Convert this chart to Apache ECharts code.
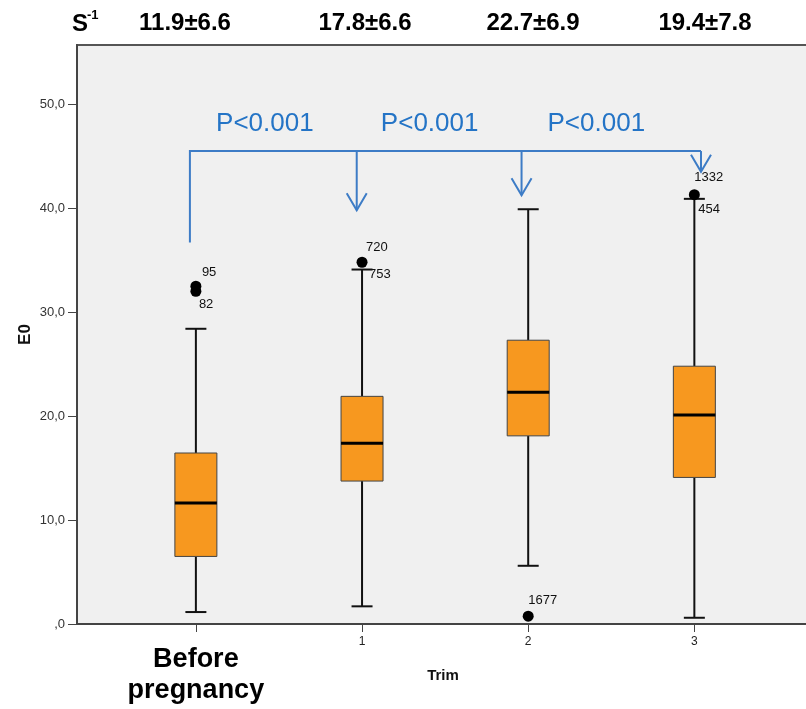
<!DOCTYPE html>
<html>
<head>
<meta charset="utf-8">
<script src="https://cdn.jsdelivr.net/npm/echarts@6/dist/echarts.min.js"></script>
<style>
  html, body { margin: 0; padding: 0; background: #fff; }
  #chart { width: 806px; height: 709px; }
</style>
</head>
<body>
<div id="chart"></div>
<script>
// groups on the x axis (SPSS puts them at 0..3)
const groups = ['Before pregnancy', '1', '2', '3'];
const groupX = [0, 1, 2, 3];

// box plot values of E0
const whiskerLow = [1.15, 1.7, 5.6, 0.6];
const q1 = [6.5, 13.75, 18.1, 14.1];
const median = [11.65, 17.4, 22.3, 20.1];
const q3 = [16.45, 21.9, 27.3, 24.8];
const whiskerHigh = [28.4, 34.1, 39.9, 40.9];

// outliers, labelled by case number
const outlierX = [0, 0, 1, 1, 2, 3, 3];
const outlierY = [32.5, 32.0, 34.8, 34.1, 0.75, 41.3, 40.9];
const outlierCase = ['95', '82', '720', '753', '1677', '1332', '454'];
const outlierShown = [true, true, true, false, true, true, false];

// mean ± sd shown above each group
const meanSd = ['11.9±6.6', '17.8±6.6', '22.7±6.9', '19.4±7.8'];

const yTicks = [0, 10, 20, 30, 40, 50];

// P value bracket (in axis units)
const pText = ['P<0.001', 'P<0.001', 'P<0.001'];
const pX = [0.415, 1.407, 2.41];
const pY = 48.1;
const bracketY = 45.5;
const bracketStart = [-0.036, 36.7];
const arrowX = [0.968, 1.96, 3.04];
const arrowTip = [39.8, 41.25, 43.5];

// styling
const FONT = 'Liberation Sans, Arial, sans-serif';
const ORANGE = '#F7981F';
const BLUE = '#3D7CC6';
const BOX_W = 42;
const CAP_W = 21;
const headerX = [185, 365, 533, 705];
// label position of each case number, px from the dot centre
const labelShift = {
  '95': [6, -14], '82': [3, 13], '720': [4, -15], '753': [7, 5],
  '1677': [0, -16], '1332': [0, -17], '454': [4, 11]
};

const chart = echarts.init(document.getElementById('chart'));

function renderBox(params, api) {
  const x = api.value(0);
  const lo = api.coord([x, api.value(1)]);
  const b1 = api.coord([x, api.value(2)]);
  const md = api.coord([x, api.value(3)]);
  const b3 = api.coord([x, api.value(4)]);
  const hi = api.coord([x, api.value(5)]);
  const cx = lo[0];
  const stem = { stroke: '#111', lineWidth: 2 };
  return {
    type: 'group',
    children: [
      { type: 'line', shape: { x1: cx, y1: lo[1], x2: cx, y2: b1[1] }, style: stem },
      { type: 'line', shape: { x1: cx, y1: b3[1], x2: cx, y2: hi[1] }, style: stem },
      { type: 'line', shape: { x1: cx - CAP_W / 2, y1: lo[1], x2: cx + CAP_W / 2, y2: lo[1] }, style: stem },
      { type: 'line', shape: { x1: cx - CAP_W / 2, y1: hi[1], x2: cx + CAP_W / 2, y2: hi[1] }, style: stem },
      {
        type: 'rect',
        shape: { x: cx - BOX_W / 2, y: b3[1], width: BOX_W, height: b1[1] - b3[1] },
        style: { fill: ORANGE, stroke: '#444', lineWidth: 1 }
      },
      {
        type: 'line',
        shape: { x1: cx - BOX_W / 2, y1: md[1], x2: cx + BOX_W / 2, y2: md[1] },
        style: { stroke: '#000', lineWidth: 3 }
      }
    ]
  };
}

function renderArrow(params, api) {
  const top = api.coord([api.value(0), bracketY]);
  const tip = api.coord([api.value(0), api.value(1)]);
  return {
    type: 'group',
    children: [
      { type: 'line', shape: { x1: top[0], y1: top[1], x2: tip[0], y2: tip[1] }, style: { stroke: BLUE, lineWidth: 2 } },
      {
        type: 'polyline',
        shape: { points: [[tip[0] - 10, tip[1] - 17], [tip[0], tip[1]], [tip[0] + 10, tip[1] - 17]] },
        style: { stroke: BLUE, lineWidth: 2, fill: null }
      }
    ]
  };
}

const boxData = groupX.map((x, i) => [x, whiskerLow[i], q1[i], median[i], q3[i], whiskerHigh[i]]);

const outlierData = outlierX.map((x, i) => {
  const s = labelShift[outlierCase[i]];
  return {
    value: [x, outlierY[i]],
    name: outlierCase[i],
    itemStyle: { color: outlierShown[i] ? '#000' : 'rgba(0,0,0,0)', opacity: 1 },
    label: { offset: s }
  };
});

const option = {
  animation: false,
  grid: {
    left: 77, top: 45, right: -3, bottom: 85,
    outerBoundsMode: 'none', containLabel: false,
    show: true, backgroundColor: '#F0F0F0', borderColor: '#555', borderWidth: 2
  },
  xAxis: {
    type: 'value',
    min: -0.7155, max: 3.69,
    name: 'Trim', nameLocation: 'middle', nameGap: 44, nameMoveOverlap: false,
    nameTextStyle: { fontFamily: FONT, fontWeight: 'bold', fontSize: 15, color: '#111' },
    splitLine: { show: false },
    axisLine: { onZero: false, lineStyle: { color: '#444', width: 2 } },
    axisTick: { length: 8, lineStyle: { color: '#444' }, customValues: groupX },
    axisLabel: {
      customValues: groupX,
      margin: 12,
      fontFamily: FONT, fontSize: 12, color: '#222',
      formatter: v => v === 0 ? '{big|Before\npregnancy}' : groups[v],
      rich: {
        big: { fontFamily: FONT, fontSize: 27, fontWeight: 'bold', color: '#000', lineHeight: 31, padding: [16, 0, 0, 0] }
      }
    }
  },
  yAxis: {
    type: 'value',
    min: 0, max: 55.7,
    name: 'E0', nameLocation: 'middle', nameGap: 43, nameMoveOverlap: false,
    nameTextStyle: { fontFamily: FONT, fontWeight: 'bold', fontSize: 17, color: '#111' },
    splitLine: { show: false },
    axisLine: { show: true, onZero: false, lineStyle: { color: '#444', width: 2 } },
    axisTick: { show: true, length: 9, lineStyle: { color: '#444' }, customValues: yTicks },
    axisLabel: {
      customValues: yTicks,
      margin: 12,
      fontFamily: FONT, fontSize: 13, color: '#333',
      formatter: v => v === 0 ? ',0' : v.toFixed(1).replace('.', ',')
    }
  },
  graphic: [
    { type: 'text', x: 72, y: 12, style: { text: 'S', font: 'bold 24px ' + FONT, fill: '#000' } },
    { type: 'text', x: 87, y: 9, style: { text: '-1', font: 'bold 13px ' + FONT, fill: '#000' } }
  ].concat(meanSd.map((t, i) => ({
    type: 'text', x: headerX[i], y: 23,
    style: { text: t, font: 'bold 24px ' + FONT, fill: '#000', align: 'center', verticalAlign: 'middle' }
  }))),
  series: [
    {
      type: 'line',
      data: [[bracketStart[0], bracketStart[1]], [bracketStart[0], bracketY], [arrowX[2], bracketY]],
      showSymbol: false,
      lineStyle: { color: BLUE, width: 2, join: 'miter' },
      z: 3
    },
    {
      type: 'custom',
      renderItem: renderArrow,
      data: arrowX.map((x, i) => [x, arrowTip[i]]),
      encode: { x: 0, y: 1 },
      z: 3
    },
    {
      type: 'scatter',
      data: pX.map((x, i) => ({ value: [x, pY], name: pText[i] })),
      symbolSize: 1,
      itemStyle: { color: 'rgba(0,0,0,0)', opacity: 1 },
      label: {
        show: true, position: 'inside', formatter: '{b}',
        fontFamily: FONT, fontSize: 26, color: '#2474C6'
      }
    },
    {
      type: 'custom',
      renderItem: renderBox,
      data: boxData,
      encode: { x: 0, y: [1, 2, 3, 4, 5] },
      z: 4
    },
    {
      type: 'scatter',
      data: outlierData,
      symbolSize: 11,
      z: 5,
      label: {
        show: true, position: 'inside', align: 'left', verticalAlign: 'middle',
        formatter: '{b}', fontFamily: FONT, fontSize: 13, color: '#111'
      }
    }
  ]
};

chart.setOption(option);
</script>
</body>
</html>
